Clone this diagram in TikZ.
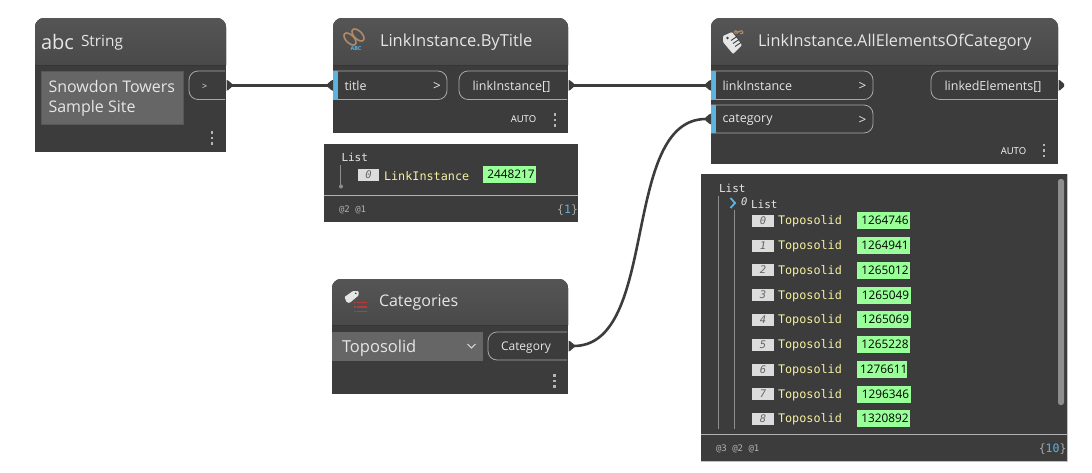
\documentclass[tikz,border=0pt]{standalone}
\usepackage{fontspec}
\setmainfont{Open Sans}
\newfontfamily\monof{DejaVu Sans Mono}
\usetikzlibrary{fit}
\definecolor{bodyc}{HTML}{3C3C3C}
\definecolor{headt}{HTML}{555555}
\definecolor{headb}{HTML}{494949}
\definecolor{txtc}{HTML}{E6E6E6}
\definecolor{portc}{HTML}{A8A8A8}
\definecolor{bluec}{HTML}{5DB3E0}
\definecolor{fieldc}{HTML}{666666}
\definecolor{greenc}{HTML}{99FF99}
\definecolor{yelc}{HTML}{F5F0A0}
\definecolor{idxc}{HTML}{DCDCDC}
\definecolor{linec}{HTML}{8E8E8E}
\definecolor{chainc}{HTML}{B08A68}
\definecolor{tagred}{HTML}{B83A3A}
\newcommand{\fs}[1]{\fontsize{#1}{#1}\selectfont}
\tikzset{
  x=1pt,y=-1pt,
  every node/.style={inner sep=0pt,outer sep=0pt},
  txt/.style={anchor=west,text=txtc},
  title/.style={txt,font=\fs{16.3}},
  lbl/.style={txt,font=\fs{12.5}},
  auto lbl/.style={anchor=center,text=white,font=\fs{9.5}},
  mono/.style={anchor=west,font=\monof\fs{11.8}},
  small mono/.style={anchor=west,text=portc!90!white,font=\monof\fs{9}},
  portline/.style={draw=portc,line width=.8pt},
  wire/.style={draw=bodyc,line width=2.6pt},
  knob/.style={fill=bodyc},
  idxbox/.style={fill=idxc,minimum width=22pt,minimum height=12pt,anchor=west,text=black!60,font=\monof\itshape\fs{10.5}},
  valbox/.style={fill=greenc,anchor=west,text=black,minimum height=17pt,font=\fs{11.8}},
  tree/.style={draw=linec,line width=1pt},
  sep/.style={draw=portc!90!white,line width=.8pt},
}
\newcommand{\nodebody}[6]{% name x1 y1 x2 y2 header bottom
  \fill[bodyc] (#2,#3+10) rectangle (#4,#5);
  \fill[top color=headt,bottom color=headb]
     (#2,#6) [rounded corners=9pt] -- (#2,#3) -- (#4,#3) [sharp corners] -- (#4,#6) -- cycle;
  \node[fit={(#2,#3)(#4,#5)},inner sep=0pt] (#1) {};
}
\newcommand{\inport}[7]{% name x1 y1 x2 y2 label x>
  \node[fit={(#2,#3)(#4,#5)},inner sep=0pt] (#1) {};
  \draw[portline] (#1.north west) [rounded corners=9pt] -- (#1.north east) -- (#1.south east) [sharp corners] -- (#1.south west);
  \fill[bluec] (#1.north west) rectangle ([xshift=5pt]#1.south west);
  \node[lbl] (#1l) at (#2+11.5,#3+14.5) {#6};
  \node[lbl,font=\fs{13.5}] (#1a) at (#7-.5,#3+15.5) {>};
  \fill[knob] (#1.west) ++(0,-5.5) -- ++(-2,1) -- ++(-3.5,3) -- ++(0,3) -- ++(3.5,3) -- ++(2,1) -- cycle;
}
\newcommand{\outport}[7]{% name x1 y1 x2 y2 label labelx
  \node[fit={(#2,#3)(#4,#5)},inner sep=0pt] (#1) {};
  \draw[portline] (#1.north east) [rounded corners=9pt] -- (#1.north west) -- (#1.south west) [sharp corners] -- (#1.south east);
  \node[lbl] (#1l) at (#7,#3+15.5) {#6};
  \fill[knob] ([xshift=1.5pt]#1.east) ++(0,-5.5) -- ++(2,1) -- ++(3.5,3) -- ++(0,3) -- ++(-3.5,3) -- ++(-2,1) -- cycle;
}
\newcommand{\kebab}[2]{%
  \foreach \d in {-5.5,0,5.5} \fill[portc!85!white] (#1-1.1,#2+\d-1.1) rectangle (#1+1.1,#2+\d+1.1);
}
\newcommand{\wrow}[4]{% index y value width
  \node[idxbox] (idx#1) at (752,#2) {#1};
  \node[mono,text=yelc] (typ#1) at (778,#2+1) {Toposolid};
  \node[valbox,minimum width=#4pt] (val#1) at (857,#2) {\hspace*{3pt}#3\hfill};
}
\begin{document}
\begin{tikzpicture}
\useasboundingbox (0,0) rectangle (1092,472);
\fill[white] (0,0) rectangle (1092,472);

% String
\nodebody{strN}{35}{18}{226}{152}{65}
\node[txt,font=\fs{20}] (strIcon) at (41,41.5) {abc};
\node[title,font=\fs{15.4}] (strT) at (81,42.5) {String};
\node[fit={(41,71)(183,124)},inner sep=0pt,fill=fieldc,draw=fieldc!85!black,line width=.6pt] (strF) {};
\node[txt,font=\fs{16}] (strV1) at (48.5,86) {Snowdon Towers};
\node[txt,font=\fs{16}] (strV2) at (48.5,108) {Sample Site};
\outport{strP}{189}{71}{225}{99.5}{\fs{9}>}{202}
\kebab{212}{138}

% LinkInstance.ByTitle
\nodebody{byN}{333}{18}{568}{133}{65}
\draw[chainc,line width=1.6pt,rotate around={-45:(350,39)}] (350,39) ellipse (7.5 and 4);
\draw[chainc,line width=1.6pt,rotate around={-45:(358,35)}] (358,35) ellipse (7.5 and 4);
\node[anchor=center,text=bluec,font=\bfseries\fs{5.5}] (byIcon) at (356,48.5) {ABC};
\node[title,font=\fs{16.5}] (byT) at (380,42) {LinkInstance.ByTitle};
\inport{titleP}{333}{71}{447}{99.5}{title}{433.5}
\outport{liP}{459}{71}{567}{99.5}{linkInstance[]}{472.5}
\node[auto lbl] (byA) at (523.5,119.5) {AUTO};
\kebab{555}{120}

% Watch 1
\fill[bodyc] (324,144) rectangle (578,222);
\node[mono,text=txtc,font=\monof\fs{11}] (w1L) at (341.5,157.5) {List};
\draw[tree] (340.5,165) -- (340.5,186);
\fill[linec] (341,186.5) circle (2);
\node[idxbox,minimum width=21pt,minimum height=12pt] (w1I) at (358,175) {0};
\node[mono,text=yelc] (w1T) at (384,176.5) {LinkInstance};
\node[valbox,minimum width=53pt] (w1V) at (483,174.5) {\hspace*{3pt}2448217\hfill};
\draw[sep] (324,195) -- (578,195);
\node[small mono] (w1S) at (339,210) {@2 @1};
\node[anchor=east,text=portc,font=\monof\fs{11.5}] (w1C) at (578,210) {\{\textcolor{bluec}{1}\}};

% LinkInstance.AllElementsOfCategory
\nodebody{allN}{711}{18}{1058}{164}{65}
\fill[txtc,rounded corners=1pt] (723,36) -- (732,32) -- (742,45) -- (733,54) -- (723,42) -- cycle;
\fill[bodyc] (727.5,38) circle (1.3);
\draw[bodyc,line width=.9pt] (731,40.5) -- (737,36.5) (733,43.5) -- (739,39.5) (735,46.5) -- (741,42.5);
\draw[chainc,line width=1.1pt] (738,32) .. controls (734,28) and (733,35) .. (737,33) -- (739,31.5) .. controls (743,28.5) and (745,35) .. (740,33.5);
\node[title,font=\fs{16.25}] (allT) at (758,42) {LinkInstance.AllElementsOfCategory};
\inport{liIn}{711}{71}{873}{99.5}{linkInstance}{859}
\inport{catIn}{711}{105}{873}{133}{category}{859}
\outport{leP}{931}{71}{1057}{99.5}{linkedElements[]}{944.5}
\node[auto lbl] (allA) at (1013.5,151) {AUTO};
\kebab{1044}{150.5}

% Watch 2
\fill[bodyc] (701,174) rectangle (1067,461);
\draw[portc!70!white,line width=.6pt] (1067,174) -- (1067,461) -- (701,461);
\node[mono,text=txtc,font=\monof\fs{11}] (w2L) at (719,188.5) {List};
\draw[tree] (718.5,196) -- (718.5,429);
\draw[tree] (734.5,210) -- (734.5,429);
\draw[bluec,line width=1.8pt] (730.5,198) -- (735,203) -- (730.5,208);
\node[anchor=west,text=txtc,font=\monof\itshape\fs{10.5}] (w2Z) at (741,202) {0};
\node[mono,text=txtc,font=\monof\fs{11}] (w2L2) at (751,204) {List};
\wrow{0}{220.5}{1264746}{53}
\wrow{1}{245.5}{1264941}{53}
\wrow{2}{270}{1265012}{53}
\wrow{3}{295}{1265049}{54}
\wrow{4}{319.5}{1265069}{54}
\wrow{5}{344.5}{1265228}{53}
\wrow{6}{369.5}{1276611}{50}
\wrow{7}{394}{1296346}{54}
\wrow{8}{418.5}{1320892}{53}
\fill[linec,rounded corners=2.5pt] (1058,179) rectangle (1064,405);
\draw[sep] (701,434.5) -- (1067,434.5);
\node[small mono] (w2S) at (716,449) {@3 @2 @1};
\node[anchor=east,text=portc,font=\monof\fs{11.5}] (w2C) at (1066.5,449) {\{\textcolor{bluec}{10}\}};

% Categories
\nodebody{catN}{332}{279}{568}{394}{325}
\fill[txtc,rounded corners=.8pt] (344.5,297) -- (353,291) -- (358.5,291) -- (358.5,295.5) -- (349.5,303) -- (346.5,302) -- cycle;
\fill[bodyc] (355.8,293.3) circle (.9);
\foreach \yy in {302.5,307,311.5} {\fill[tagred] (357,\yy-1) rectangle (367,\yy+.8); \fill[tagred] (353.5,\yy-1) rectangle (355.5,\yy+.8);}
\node[title,font=\fs{16}] (catT) at (379,303) {Categories};
\node[fit={(332,332)(483,361)},inner sep=0pt,fill=fieldc] (catF) {};
\node[txt,font=\fs{16.5}] (catV) at (342,348.5) {Toposolid};
\draw[txtc,line width=1pt] (467.5,344) -- (471.5,348) -- (475.5,344);
\outport{catP}{488}{332}{567}{360}{\fs{12}Category}{501}
\kebab{554.5}{381}

% Connectors
\draw[wire] ([xshift=6pt]strP.east) -- ([xshift=-5pt]titleP.west);
\draw[wire] ([xshift=6pt]liP.east) -- ([xshift=-5pt]liIn.west);
\draw[wire] ([xshift=6pt]catP.east) .. controls (660,347) and (620,119) .. ([xshift=-5pt]catIn.west);
\end{tikzpicture}
\end{document}
